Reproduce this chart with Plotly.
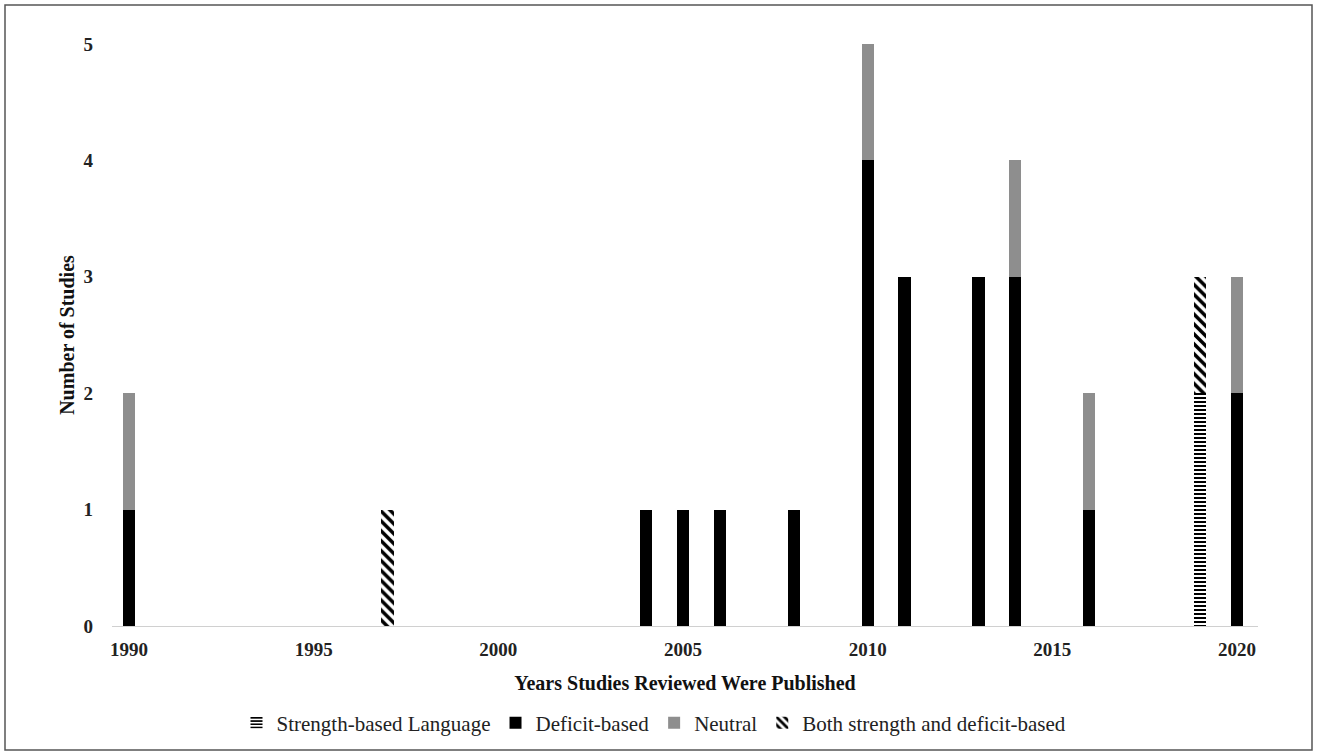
import plotly.graph_objects as go

years = [1990, 1997, 2004, 2005, 2006, 2008, 2010, 2011, 2013, 2014, 2016, 2019, 2020]
strength = [None, None, None, None, None, None, None, None, None, None, None, 2, None]
deficit = [1, None, 1, 1, 1, 1, 4, 3, 3, 3, 1, None, 2]
neutral = [1, None, None, None, None, None, 1, None, None, 1, 1, None, 1]
both = [None, 1, None, None, None, None, None, None, None, None, None, 1, None]

xticks = [1990, 1995, 2000, 2005, 2010, 2015, 2020]
yticks = [0, 1, 2, 3, 4, 5]

FONT = "Liberation Serif, Times New Roman, serif"
BW = 0.33

fig = go.Figure()
fig.add_trace(go.Bar(
    x=years, y=strength, name="Strength-based Language", width=BW,
    marker=dict(color="white", line=dict(width=0),
                pattern=dict(shape="-", fgcolor="black", bgcolor="white", fgopacity=1,
                             size=4, solidity=0.5)),
))
fig.add_trace(go.Bar(
    x=years, y=deficit, name="Deficit-based", width=BW,
    marker=dict(color="black", line=dict(width=0)),
))
fig.add_trace(go.Bar(
    x=years, y=neutral, name="Neutral", width=BW,
    marker=dict(color="#8e8e8e", line=dict(width=0)),
))
fig.add_trace(go.Bar(
    x=years, y=both, name="Both strength and deficit-based", width=BW,
    marker=dict(color="white", line=dict(width=0),
                pattern=dict(shape="\\", fgcolor="black", bgcolor="white", fgopacity=1,
                             size=7, solidity=0.5)),
))

L, R, T, B = 112, 59, 44, 129
W, H = 1317, 755
pw = W - L - R
ph = H - T - B

def px(x):
    return (x - L) / pw

def py(y):
    return (H - B - y) / ph

fig.update_layout(
    width=W, height=H,
    barmode="stack",
    margin=dict(l=L, r=R, t=T, b=B),
    plot_bgcolor="white", paper_bgcolor="white",
    font=dict(family=FONT, size=19, color="#222"),
    showlegend=True,
    legend=dict(orientation="h", x=px(654), xanchor="center", y=py(723), yanchor="middle",
                font=dict(family=FONT, size=21, color="#222"), traceorder="normal",
                itemwidth=30, bgcolor="rgba(0,0,0,0)"),
    xaxis=dict(range=[1989.54, 2020.57], tickvals=xticks, ticktext=[str(t) for t in xticks],
               showgrid=False, zeroline=False, showline=True, linecolor="#d0d0d0", linewidth=1,
               ticks="", ticklabelstandoff=6,
               tickfont=dict(family=FONT, size=19, color="#222", weight="bold"),
               title=dict(text="<b>Years Studies Reviewed Were Published</b>", standoff=17,
                          font=dict(family=FONT, size=20, color="#111"))),
    yaxis=dict(range=[0, 5], tickvals=yticks, showgrid=False, zeroline=False, showline=False,
               ticks="", ticklabelstandoff=18,
               tickfont=dict(family=FONT, size=19, color="#222", weight="bold"),
               title=dict(text="<b>Number of Studies</b>", standoff=3,
                          font=dict(family=FONT, size=20, color="#111"))),
    shapes=[dict(type="rect", xref="paper", yref="paper",
                 x0=px(5), x1=px(1312), y0=py(750), y1=py(5),
                 line=dict(color="#555", width=1.5), fillcolor="rgba(0,0,0,0)", layer="below")],
)

fig.write_html("out.html", config={"displayModeBar": False},
               post_script="document.body.style.margin='0px';document.body.style.overflow='hidden';")
